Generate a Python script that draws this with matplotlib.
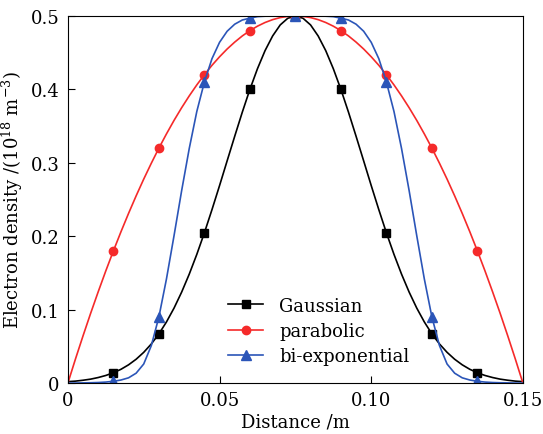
import numpy as np
import matplotlib
matplotlib.use("Agg")
import matplotlib.pyplot as plt

# distance grid (m); markers sit every 0.015 m
distance = np.round(np.arange(0, 0.15001, 0.0025), 5)

# left half (x = 0 .. 0.075), right half is its mirror
gauss_half = [0.002, 0.0027, 0.0039, 0.0054, 0.0076, 0.0104, 0.0141, 0.0188,
              0.0249, 0.0325, 0.0419, 0.0533, 0.067, 0.0833, 0.1022, 0.1239,
              0.1483, 0.1753, 0.2047, 0.2362, 0.269, 0.3027, 0.3362, 0.369,
              0.400, 0.4282, 0.4528, 0.4728, 0.4878, 0.4969, 0.500]
parab_half = [0.0, 0.0328, 0.0644, 0.095, 0.1244, 0.1528, 0.180, 0.2061,
              0.2311, 0.255, 0.2778, 0.2994, 0.320, 0.3394, 0.3578, 0.375,
              0.3911, 0.4061, 0.420, 0.4328, 0.4444, 0.455, 0.4644, 0.4728,
              0.480, 0.4861, 0.4911, 0.495, 0.4978, 0.4994, 0.500]
biexp_half = [0.0, 0.0001, 0.0003, 0.0005, 0.0008, 0.0014, 0.0025, 0.0042,
              0.0072, 0.0135, 0.026, 0.051, 0.090, 0.1419, 0.2009, 0.262,
              0.3193, 0.3699, 0.410, 0.4418, 0.4641, 0.4792, 0.4888, 0.4945,
              0.497, 0.4991, 0.4997, 0.4999, 0.500, 0.500, 0.500]

gaussian = gauss_half + gauss_half[-2::-1]
parabolic = parab_half + parab_half[-2::-1]
biexp = biexp_half + biexp_half[-2::-1]

plt.rcParams['font.family'] = ['DejaVu Serif']
plt.rcParams['mathtext.fontset'] = 'dejavuserif'

fig = plt.figure(figsize=(5.43, 4.35), dpi=100)
ax = fig.add_axes([0.125, 0.117, 0.838, 0.844])

marks = list(range(6, 55, 6))
ax.plot(distance, gaussian, color='black', lw=1.2, marker='s', ms=5.5,
        markevery=marks, label='Gaussian')
ax.plot(distance, parabolic, color='#f52a2a', lw=1.2, marker='o', ms=6,
        markevery=marks, label='parabolic')
ax.plot(distance, biexp, color='#2b55b8', lw=1.2, marker='^', ms=6.5,
        markevery=marks, label='bi-exponential')

ax.set_xlim(0, 0.15)
ax.set_ylim(0, 0.5)
ax.set_xticks([0, 0.05, 0.10, 0.15])
ax.set_xticklabels(['0', '0.05', '0.10', '0.15'])
ax.set_yticks([0, 0.1, 0.2, 0.3, 0.4, 0.5])
ax.set_yticklabels(['0', '0.1', '0.2', '0.3', '0.4', '0.5'])
ax.tick_params(direction='in', length=5, labelsize=13, pad=6)

ax.set_xlabel('Distance /m', fontsize=13, labelpad=2)
ax.set_ylabel(r'Electron density /(10$^{18}$ m$^{-3}$)', fontsize=13, labelpad=4)

ax.legend(loc='upper left', bbox_to_anchor=(0.337, 0.255), frameon=False,
          fontsize=13, handlelength=1.9, handletextpad=0.9,
          labelspacing=0.4, borderaxespad=0)

fig.savefig('out.png')
